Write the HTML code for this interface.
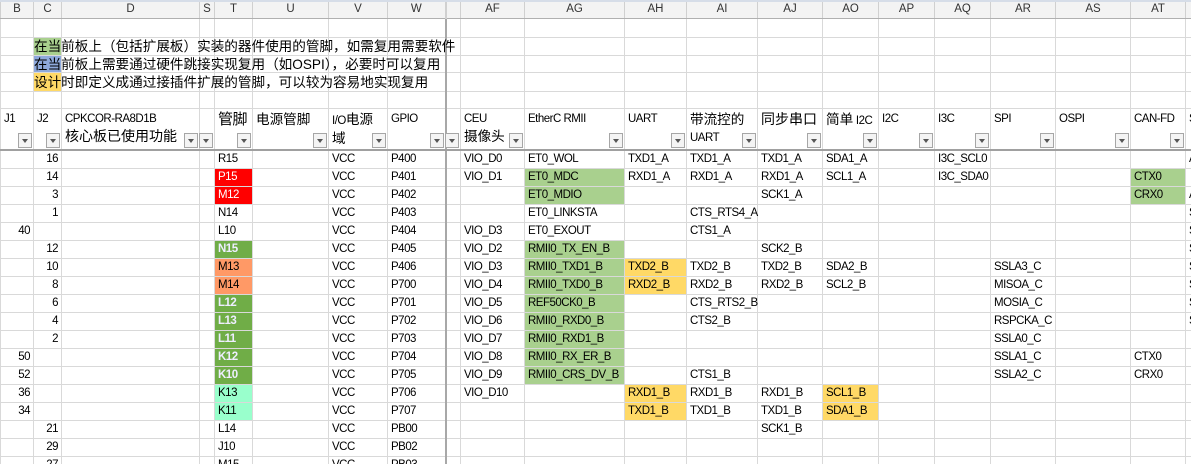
<!DOCTYPE html>
<html><head><meta charset="utf-8">
<style>
html,body{margin:0;padding:0;background:#fff;width:1191px;height:464px;overflow:hidden}
body{font-family:"Liberation Sans","Noto Sans CJK SC",sans-serif;font-size:11.5px;letter-spacing:-0.5px;color:#000;position:relative}
table{border-collapse:collapse;table-layout:fixed;position:absolute;left:0;top:0;width:1205px}
td{border:1px solid #d9d9d9;padding:0 0 0 3px;white-space:nowrap;overflow:visible;height:17px;line-height:17px;vertical-align:middle;position:relative;box-sizing:border-box}
tr.ch td{background:#f3f3f3;text-align:center;padding:0;border-color:#d0d0d0;border-bottom:1px solid #b0b0b0;color:#333;height:17px;letter-spacing:0}
.r{text-align:right;padding:0 3px 0 0}
.big{font-size:14px;letter-spacing:0}
.cj{font-size:13.6px;letter-spacing:0}
.dv{border-left:2px solid #a8a8a8}
tr.hd td{vertical-align:top;line-height:17px;height:38px;border-bottom:2px solid #a0a0a0;padding-top:2px}
.dd{position:absolute;right:1px;bottom:1px;width:14px;height:15px;border:1px solid #a6a6a6;background:#f4f4f4;box-sizing:border-box}
.dd:after{content:"";position:absolute;left:3px;top:5px;border-left:3px solid transparent;border-right:3px solid transparent;border-top:4px solid #555}
.red{background:#ff0000;color:#fff}
.gr{background:#70ad47;color:#eef;font-weight:bold}
.or{background:#ff9966}
.mt{background:#99ffcc}
.lg{background:#a9d08e}
.ye{background:#ffd966}
.bl{background:#8ea9db}
.ov{display:block;width:0;overflow:visible;white-space:nowrap}
</style></head><body>
<div style="position:absolute;left:0;top:0;width:1191px;height:2px;background:#d6dde8;z-index:2"></div>
<table>
<colgroup>
<col style="width:33px"><col style="width:28px"><col style="width:138px"><col style="width:15px"><col style="width:38px"><col style="width:76px"><col style="width:59px"><col style="width:58px"><col style="width:15px"><col style="width:64px"><col style="width:100px"><col style="width:62px"><col style="width:71px"><col style="width:65px"><col style="width:56px"><col style="width:56px"><col style="width:56px"><col style="width:65px"><col style="width:75px"><col style="width:55px"><col style="width:20px">
</colgroup>
<tr class="ch"><td>B</td><td>C</td><td>D</td><td>S</td><td>T</td><td>U</td><td>V</td><td>W</td><td class="dv"></td><td>AF</td><td>AG</td><td>AH</td><td>AI</td><td>AJ</td><td>AO</td><td>AP</td><td>AQ</td><td>AR</td><td>AS</td><td>AT</td><td></td></tr>
<tr style="height:19px"><td></td><td></td><td></td><td></td><td></td><td></td><td></td><td></td><td class="dv"></td><td></td><td></td><td></td><td></td><td></td><td></td><td></td><td></td><td></td><td></td><td></td><td></td></tr>
<tr><td></td><td class="lg cj" style="padding:0"><span class="ov">在当前板上（包括扩展板）实装的器件使用的管脚，如需复用需要软件</span></td><td></td><td></td><td></td><td></td><td></td><td></td><td class="dv"></td><td></td><td></td><td></td><td></td><td></td><td></td><td></td><td></td><td></td><td></td><td></td><td></td></tr>
<tr style="height:16px"><td style="height:16px"></td><td class="bl cj" style="padding:0;height:16px;line-height:15px"><span class="ov">在当前板上需要通过硬件跳接实现复用（如OSPI），必要时可以复用</span></td><td></td><td></td><td></td><td></td><td></td><td></td><td class="dv"></td><td></td><td></td><td></td><td></td><td></td><td></td><td></td><td></td><td></td><td></td><td></td><td></td></tr>
<tr style="height:19px"><td style="height:19px"></td><td class="ye cj" style="padding:0;height:19px"><span class="ov">设计时即定义成通过接插件扩展的管脚，可以较为容易地实现复用</span></td><td></td><td></td><td></td><td></td><td></td><td></td><td class="dv"></td><td></td><td></td><td></td><td></td><td></td><td></td><td></td><td></td><td></td><td></td><td></td><td></td></tr>
<tr style="height:17px"><td style="height:17px"></td><td></td><td></td><td></td><td></td><td></td><td></td><td></td><td class="dv"></td><td></td><td></td><td></td><td></td><td></td><td></td><td></td><td></td><td></td><td></td><td></td><td></td></tr>
<tr class="hd"><td>J1<span class="dd"></span></td><td>J2<span class="dd"></span></td><td>CPKCOR-RA8D1B<br><span class="big">核心板已使用功能</span><span class="dd"></span></td><td><span class="dd"></span></td><td><span style="font-size:15px">管脚</span><span class="dd"></span></td><td><span class="cj">电源管脚</span><span class="dd"></span></td><td>I/O<span class="cj">电源</span><br><span class="cj">域</span><span class="dd"></span></td><td>GPIO<span class="dd"></span></td><td class="dv"><span class="dd"></span></td><td>CEU<br><span class="cj">摄像头</span><span class="dd"></span></td><td>EtherC RMII<span class="dd"></span></td><td>UART<span class="dd"></span></td><td><span class="cj">带流控的</span><br>UART<span class="dd"></span></td><td><span class="big">同步串口</span><span class="dd"></span></td><td><span class="cj">简单</span> I2C<span class="dd"></span></td><td>I2C<span class="dd"></span></td><td>I3C<span class="dd"></span></td><td>SPI<span class="dd"></span></td><td>OSPI<span class="dd"></span></td><td>CAN-FD<span class="dd"></span></td><td>S</td></tr>
<tr><td class="r"></td><td class="r">16</td><td></td><td></td><td>R15</td><td></td><td>VCC</td><td>P400</td><td class="dv"></td><td>VIO_D0</td><td>ET0_WOL</td><td>TXD1_A</td><td>TXD1_A</td><td>TXD1_A</td><td>SDA1_A</td><td></td><td>I3C_SCL0</td><td></td><td></td><td></td><td>A</td></tr>
<tr><td class="r"></td><td class="r">14</td><td></td><td></td><td class="red">P15</td><td></td><td>VCC</td><td>P401</td><td class="dv"></td><td>VIO_D1</td><td class="lg">ET0_MDC</td><td>RXD1_A</td><td>RXD1_A</td><td>RXD1_A</td><td>SCL1_A</td><td></td><td>I3C_SDA0</td><td></td><td></td><td class="lg">CTX0</td><td></td></tr>
<tr><td class="r"></td><td class="r">3</td><td></td><td></td><td class="red">M12</td><td></td><td>VCC</td><td>P402</td><td class="dv"></td><td></td><td class="lg">ET0_MDIO</td><td></td><td></td><td>SCK1_A</td><td></td><td></td><td></td><td></td><td></td><td class="lg">CRX0</td><td>A</td></tr>
<tr><td class="r"></td><td class="r">1</td><td></td><td></td><td>N14</td><td></td><td>VCC</td><td>P403</td><td class="dv"></td><td></td><td>ET0_LINKSTA</td><td></td><td>CTS_RTS4_A</td><td></td><td></td><td></td><td></td><td></td><td></td><td></td><td>S</td></tr>
<tr><td class="r">40</td><td class="r"></td><td></td><td></td><td>L10</td><td></td><td>VCC</td><td>P404</td><td class="dv"></td><td>VIO_D3</td><td>ET0_EXOUT</td><td></td><td>CTS1_A</td><td></td><td></td><td></td><td></td><td></td><td></td><td></td><td>S</td></tr>
<tr><td class="r"></td><td class="r">12</td><td></td><td></td><td class="gr">N15</td><td></td><td>VCC</td><td>P405</td><td class="dv"></td><td>VIO_D2</td><td class="lg">RMII0_TX_EN_B</td><td></td><td></td><td>SCK2_B</td><td></td><td></td><td></td><td></td><td></td><td></td><td>S</td></tr>
<tr><td class="r"></td><td class="r">10</td><td></td><td></td><td class="or">M13</td><td></td><td>VCC</td><td>P406</td><td class="dv"></td><td>VIO_D3</td><td class="lg">RMII0_TXD1_B</td><td class="ye">TXD2_B</td><td>TXD2_B</td><td>TXD2_B</td><td>SDA2_B</td><td></td><td></td><td>SSLA3_C</td><td></td><td></td><td>S</td></tr>
<tr><td class="r"></td><td class="r">8</td><td></td><td></td><td class="or">M14</td><td></td><td>VCC</td><td>P700</td><td class="dv"></td><td>VIO_D4</td><td class="lg">RMII0_TXD0_B</td><td class="ye">RXD2_B</td><td>RXD2_B</td><td>RXD2_B</td><td>SCL2_B</td><td></td><td></td><td>MISOA_C</td><td></td><td></td><td>S</td></tr>
<tr><td class="r"></td><td class="r">6</td><td></td><td></td><td class="gr">L12</td><td></td><td>VCC</td><td>P701</td><td class="dv"></td><td>VIO_D5</td><td class="lg">REF50CK0_B</td><td></td><td>CTS_RTS2_B</td><td></td><td></td><td></td><td></td><td>MOSIA_C</td><td></td><td></td><td>S</td></tr>
<tr><td class="r"></td><td class="r">4</td><td></td><td></td><td class="gr">L13</td><td></td><td>VCC</td><td>P702</td><td class="dv"></td><td>VIO_D6</td><td class="lg">RMII0_RXD0_B</td><td></td><td>CTS2_B</td><td></td><td></td><td></td><td></td><td>RSPCKA_C</td><td></td><td></td><td>S</td></tr>
<tr><td class="r"></td><td class="r">2</td><td></td><td></td><td class="gr">L11</td><td></td><td>VCC</td><td>P703</td><td class="dv"></td><td>VIO_D7</td><td class="lg">RMII0_RXD1_B</td><td></td><td></td><td></td><td></td><td></td><td></td><td>SSLA0_C</td><td></td><td></td><td></td></tr>
<tr><td class="r">50</td><td class="r"></td><td></td><td></td><td class="gr">K12</td><td></td><td>VCC</td><td>P704</td><td class="dv"></td><td>VIO_D8</td><td class="lg">RMII0_RX_ER_B</td><td></td><td></td><td></td><td></td><td></td><td></td><td>SSLA1_C</td><td></td><td>CTX0</td><td></td></tr>
<tr><td class="r">52</td><td class="r"></td><td></td><td></td><td class="gr">K10</td><td></td><td>VCC</td><td>P705</td><td class="dv"></td><td>VIO_D9</td><td class="lg">RMII0_CRS_DV_B</td><td></td><td>CTS1_B</td><td></td><td></td><td></td><td></td><td>SSLA2_C</td><td></td><td>CRX0</td><td></td></tr>
<tr><td class="r">36</td><td class="r"></td><td></td><td></td><td class="mt">K13</td><td></td><td>VCC</td><td>P706</td><td class="dv"></td><td>VIO_D10</td><td></td><td class="ye">RXD1_B</td><td>RXD1_B</td><td>RXD1_B</td><td class="ye">SCL1_B</td><td></td><td></td><td></td><td></td><td></td><td></td></tr>
<tr><td class="r">34</td><td class="r"></td><td></td><td></td><td class="mt">K11</td><td></td><td>VCC</td><td>P707</td><td class="dv"></td><td></td><td></td><td class="ye">TXD1_B</td><td>TXD1_B</td><td>TXD1_B</td><td class="ye">SDA1_B</td><td></td><td></td><td></td><td></td><td></td><td></td></tr>
<tr><td class="r"></td><td class="r">21</td><td></td><td></td><td>L14</td><td></td><td>VCC</td><td>PB00</td><td class="dv"></td><td></td><td></td><td></td><td></td><td>SCK1_B</td><td></td><td></td><td></td><td></td><td></td><td></td><td></td></tr>
<tr><td class="r"></td><td class="r">29</td><td></td><td></td><td>J10</td><td></td><td>VCC</td><td>PB02</td><td class="dv"></td><td></td><td></td><td></td><td></td><td></td><td></td><td></td><td></td><td></td><td></td><td></td><td></td></tr>
<tr><td class="r"></td><td class="r">27</td><td></td><td></td><td>M15</td><td></td><td>VCC</td><td>PB03</td><td class="dv"></td><td></td><td></td><td></td><td></td><td></td><td></td><td></td><td></td><td></td><td></td><td></td><td></td></tr>
</table>
</body></html>
